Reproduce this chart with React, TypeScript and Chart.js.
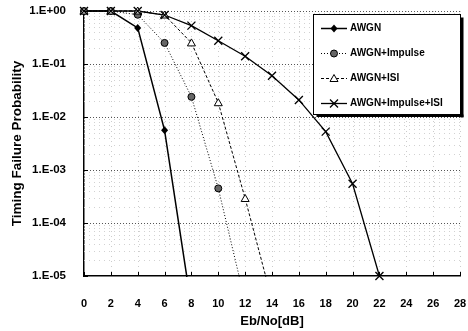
import React, { useEffect, useRef } from 'react';
import { Chart, registerables } from 'chart.js';

Chart.register(...registerables);

const ebNo = [0, 2, 4, 6, 8, 10, 12, 14, 16, 18, 20, 22];
const awgn = [1, 1, 0.48, 0.0056, 0.0000026];
const awgnImpulse = [1, 1, 0.85, 0.25, 0.024, 0.00045, 0.0000033];
const awgnIsi = [1, 1, 1, 0.84, 0.25, 0.0186, 0.00029, 0.0000035];
const awgnImpulseIsi = [1, 1, 1, 0.84, 0.53, 0.275, 0.14, 0.06, 0.021, 0.0053, 0.00055, 0.00001];
const seriesLabels = ['AWGN', 'AWGN+Impulse', 'AWGN+ISI', 'AWGN+Impulse+ISI'];
const xTicks = [0, 2, 4, 6, 8, 10, 12, 14, 16, 18, 20, 22, 24, 26, 28];
const yTickValues = [0.00001, 0.0001, 0.001, 0.01, 0.1, 1];
const yTickLabels = ['1.E-05', '1.E-04', '1.E-03', '1.E-02', '1.E-01', '1.E+00'];
const xTitle = 'Eb/No[dB]';
const yTitle = 'Timing Failure Probability';

const FONT = "'Liberation Sans', Arial, sans-serif";

function drawMarker(ctx: CanvasRenderingContext2D, kind: string, x: number, y: number) {
  ctx.save();
  ctx.setLineDash([]);
  ctx.strokeStyle = '#000';
  ctx.lineWidth = 1;
  if (kind === 'diamond') {
    ctx.fillStyle = '#000';
    ctx.beginPath();
    ctx.moveTo(x, y - 4);
    ctx.lineTo(x + 3.5, y);
    ctx.lineTo(x, y + 4);
    ctx.lineTo(x - 3.5, y);
    ctx.closePath();
    ctx.fill();
  } else if (kind === 'circle') {
    ctx.fillStyle = '#666';
    ctx.beginPath();
    ctx.arc(x, y, 3.5, 0, Math.PI * 2);
    ctx.fill();
    ctx.stroke();
  } else if (kind === 'triangle') {
    ctx.fillStyle = '#fff';
    ctx.beginPath();
    ctx.moveTo(x, y - 4);
    ctx.lineTo(x + 4, y + 3);
    ctx.lineTo(x - 4, y + 3);
    ctx.closePath();
    ctx.fill();
    ctx.stroke();
  } else {
    ctx.lineWidth = 1.3;
    ctx.beginPath();
    ctx.moveTo(x - 4, y - 4);
    ctx.lineTo(x + 4, y + 4);
    ctx.moveTo(x + 4, y - 4);
    ctx.lineTo(x - 4, y + 4);
    ctx.stroke();
  }
  ctx.restore();
}

const markerKinds = ['diamond', 'circle', 'triangle', 'x'];
const lineDashes: number[][] = [[], [1, 2], [3, 2], []];
const lineWidths = [1.5, 1, 1, 1.3];

const decorPlugin = {
  id: 'decor',
  beforeDatasetsDraw(chart: any) {
    const { ctx, chartArea: a, scales } = chart;
    const xs = scales.x;
    const ys = scales.y;
    ctx.save();
    ctx.lineWidth = 1;
    // minor horizontal grid
    ctx.strokeStyle = '#d2d2d2';
    ctx.setLineDash([1, 4]);
    for (let e = -5; e < 0; e++) {
      for (let m = 2; m < 10; m++) {
        const py = Math.round(ys.getPixelForValue(m * Math.pow(10, e))) + 0.5;
        ctx.beginPath();
        ctx.moveTo(a.left, py);
        ctx.lineTo(a.right, py);
        ctx.stroke();
      }
    }
    // vertical grid
    ctx.strokeStyle = '#cccccc';
    ctx.setLineDash([1, 4]);
    xTicks.forEach((v) => {
      if (v === 0) return;
      const px = Math.round(xs.getPixelForValue(v)) + 0.5;
      ctx.beginPath();
      ctx.moveTo(px, a.top);
      ctx.lineTo(px, a.bottom);
      ctx.stroke();
    });
    // decade lines
    ctx.strokeStyle = '#555';
    ctx.setLineDash([1, 2]);
    yTickValues.forEach((v) => {
      if (v === yTickValues[0]) return;
      const py = Math.round(ys.getPixelForValue(v)) + 0.5;
      ctx.beginPath();
      ctx.moveTo(a.left, py);
      ctx.lineTo(a.right, py);
      ctx.stroke();
    });
    ctx.restore();
  },
  afterDraw(chart: any) {
    const { ctx, chartArea: a, scales } = chart;
    const xs = scales.x;
    const ys = scales.y;
    ctx.save();
    ctx.strokeStyle = '#000';
    ctx.lineWidth = 1;
    ctx.setLineDash([]);
    // inward ticks
    yTickValues.forEach((v) => {
      const py = Math.round(ys.getPixelForValue(v)) + 0.5;
      ctx.beginPath();
      ctx.moveTo(a.left, py);
      ctx.lineTo(a.left + 4, py);
      ctx.stroke();
    });
    xTicks.forEach((v) => {
      const px = Math.round(xs.getPixelForValue(v)) + 0.5;
      ctx.beginPath();
      ctx.moveTo(px, a.bottom);
      ctx.lineTo(px, a.bottom - 4);
      ctx.stroke();
    });
    // legend box
    const bx = 313.5, by = 14.5, bw = 147, bh = 100;
    ctx.fillStyle = '#000';
    ctx.fillRect(bx + bw, by + 3, 3, bh);
    ctx.fillRect(bx + 3, by + bh, bw, 2.5);
    ctx.fillStyle = '#fff';
    ctx.fillRect(bx, by, bw, bh);
    ctx.strokeRect(bx, by, bw, bh);
    chart.data.datasets.forEach((ds: any, i: number) => {
      const ry = 28.5 + i * 25;
      ctx.save();
      ctx.strokeStyle = '#000';
      ctx.lineWidth = lineWidths[i];
      ctx.setLineDash(lineDashes[i]);
      ctx.beginPath();
      ctx.moveTo(321, ry);
      ctx.lineTo(347, ry);
      ctx.stroke();
      ctx.restore();
      drawMarker(ctx, markerKinds[i], 334, ry);
      ctx.fillStyle = '#000';
      ctx.font = `bold 10px ${FONT}`;
      ctx.textAlign = 'left';
      ctx.textBaseline = 'middle';
      ctx.fillText(ds.label, 350, ry);
    });
    ctx.restore();
  },
};

function makeDataset(i: number, values: number[]) {
  return {
    label: seriesLabels[i],
    data: values.map((v, k) => ({ x: ebNo[k], y: v })),
    borderColor: '#000',
    borderWidth: lineWidths[i],
    borderDash: lineDashes[i],
    pointRadius: 0,
    pointHoverRadius: 0,
    fill: false,
    tension: 0,
    clip: { left: 8, top: 8, right: 8, bottom: i === 3 ? 8 : 1 },
  };
}

const pointsPlugin = {
  id: 'markers',
  afterDatasetsDraw(chart: any) {
    const { ctx, chartArea: a } = chart;
    ctx.save();
    chart.data.datasets.forEach((ds: any, i: number) => {
      const meta = chart.getDatasetMeta(i);
      meta.data.forEach((pt: any) => {
        if (pt.y > a.bottom + 1) return;
        drawMarker(ctx, markerKinds[i], pt.x, pt.y);
      });
    });
    ctx.restore();
  },
};

export default function App() {
  const ref = useRef<HTMLCanvasElement | null>(null);
  useEffect(() => {
    if (!ref.current) return;
    const chart = new Chart(ref.current, {
      type: 'line',
      data: {
        datasets: [
          makeDataset(0, awgn),
          makeDataset(1, awgnImpulse),
          makeDataset(2, awgnIsi),
          makeDataset(3, awgnImpulseIsi),
        ],
      },
      options: {
        responsive: false,
        animation: false,
        devicePixelRatio: 1,
        layout: { padding: { left: 0, right: 8, top: 11, bottom: 0 } },
        plugins: { legend: { display: false }, tooltip: { enabled: false } },
        scales: {
          x: {
            type: 'linear',
            min: 0,
            max: 28,
            afterBuildTicks: (s: any) => {
              s.ticks = xTicks.map((v) => ({ value: v }));
            },
            afterFit: (s: any) => {
              s.height = 55;
              s.paddingLeft = 0;
              s.paddingRight = 0;
            },
            grid: { display: false },
            border: { display: true, color: '#000', width: 1.5 },
            ticks: {
              color: '#000',
              font: { family: FONT, size: 11, weight: 'bold' },
              padding: 13,
              maxRotation: 0,
              autoSkip: false,
            },
            title: {
              display: true,
              text: xTitle,
              color: '#000',
              font: { family: FONT, size: 13, weight: 'bold' },
              padding: { top: 0, bottom: 2 },
            },
          },
          y: {
            type: 'logarithmic',
            min: 0.00001,
            max: 1,
            afterBuildTicks: (s: any) => {
              s.ticks = yTickValues.map((v) => ({ value: v }));
            },
            afterFit: (s: any) => {
              s.width = 84;
              s.paddingTop = 0;
              s.paddingBottom = 0;
            },
            grid: { display: false },
            border: { display: true, color: '#000', width: 1.5 },
            ticks: {
              color: '#000',
              font: { family: FONT, size: 11.5, weight: 'bold' },
              padding: 10,
              autoSkip: false,
              callback: (v: any) => {
                const idx = yTickValues.findIndex((t) => Math.abs(Math.log10(t) - Math.log10(v)) < 1e-6);
                return idx >= 0 ? yTickLabels[idx] : '';
              },
            },
            title: {
              display: true,
              text: yTitle,
              color: '#000',
              font: { family: FONT, size: 13.5, weight: 'bold' },
              padding: { top: 9, bottom: 0 },
            },
          },
        },
      },
      plugins: [decorPlugin, pointsPlugin],
    } as any);
    return () => chart.destroy();
  }, []);
  return (
    <div style={{ position: 'fixed', left: 0, top: 0, width: 468, height: 331, background: '#fff' }}>
      <canvas ref={ref} width={468} height={331} />
    </div>
  );
}
